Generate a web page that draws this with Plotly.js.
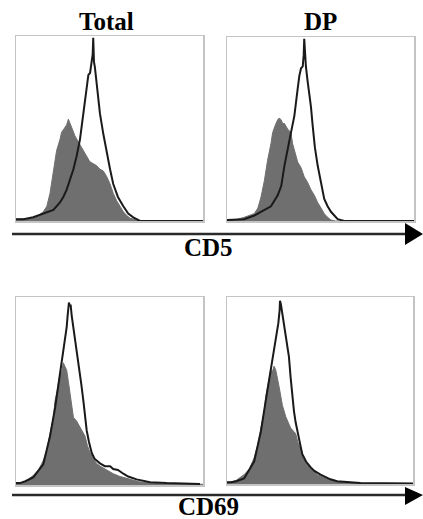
<!DOCTYPE html>
<html>
<head>
<meta charset="utf-8">
<script src="https://cdn.plot.ly/plotly-3.0.1.min.js"></script>
<style>html,body{margin:0;padding:0;background:#fff;}#chart{width:423px;height:519px;}</style>
</head>
<body>
<div id="chart"></div>
<script>
// Panel titles and marker labels
const panelTitles = ["Total", "DP"];
const markerLabels = ["CD5", "CD69"];

// CD5, Total: filled (control) histogram
const cd5TotalFillX = [0, 0.03, 0.06, 0.092, 0.12, 0.146, 0.165, 0.182, 0.2, 0.217, 0.235, 0.244, 0.258, 0.271, 0.28, 0.289, 0.3, 0.315, 0.342, 0.36, 0.378, 0.395, 0.413, 0.43, 0.449, 0.467, 0.485, 0.503, 0.52, 0.538, 0.556, 0.574, 0.592, 0.61, 0.627, 0.66, 1.0];
const cd5TotalFillY = [0.01, 0.01, 0.012, 0.02, 0.03, 0.05, 0.08, 0.15, 0.26, 0.38, 0.44, 0.48, 0.5, 0.52, 0.55, 0.53, 0.5, 0.46, 0.41, 0.38, 0.35, 0.32, 0.31, 0.3, 0.28, 0.27, 0.24, 0.2, 0.15, 0.11, 0.08, 0.05, 0.03, 0.015, 0.01, 0.0, 0.0];
// CD5, Total: outline histogram
const cd5TotalLineX = [0, 0.04, 0.092, 0.146, 0.2, 0.235, 0.253, 0.271, 0.289, 0.307, 0.324, 0.342, 0.351, 0.36, 0.369, 0.378, 0.387, 0.396, 0.405, 0.41, 0.413, 0.417, 0.422, 0.431, 0.44, 0.449, 0.467, 0.485, 0.503, 0.52, 0.545, 0.574, 0.6, 0.627, 0.663, 1.0];
const cd5TotalLineY = [0.01, 0.01, 0.02, 0.04, 0.06, 0.1, 0.13, 0.17, 0.22, 0.28, 0.35, 0.44, 0.51, 0.58, 0.66, 0.75, 0.79, 0.8, 0.85, 0.9, 0.99, 0.86, 0.83, 0.75, 0.67, 0.58, 0.47, 0.37, 0.28, 0.2, 0.13, 0.08, 0.04, 0.02, 0.0, 0.0];

// CD5, DP
const cd5DpFillX = [0, 0.05, 0.092, 0.12, 0.146, 0.165, 0.182, 0.2, 0.217, 0.235, 0.244, 0.258, 0.271, 0.28, 0.289, 0.298, 0.307, 0.324, 0.342, 0.351, 0.36, 0.378, 0.396, 0.413, 0.431, 0.449, 0.467, 0.485, 0.503, 0.52, 0.538, 0.556, 0.58, 1.0];
const cd5DpFillY = [0.005, 0.008, 0.02, 0.03, 0.04, 0.07, 0.13, 0.22, 0.33, 0.42, 0.48, 0.52, 0.55, 0.56, 0.55, 0.53, 0.53, 0.5, 0.48, 0.42, 0.39, 0.32, 0.29, 0.24, 0.21, 0.17, 0.14, 0.1, 0.07, 0.04, 0.02, 0.005, 0.0, 0.0];
const cd5DpLineX = [0, 0.05, 0.092, 0.146, 0.2, 0.235, 0.271, 0.29, 0.307, 0.324, 0.342, 0.36, 0.369, 0.378, 0.387, 0.396, 0.405, 0.41, 0.413, 0.417, 0.422, 0.431, 0.44, 0.449, 0.458, 0.47, 0.485, 0.503, 0.52, 0.538, 0.556, 0.574, 0.592, 0.627, 1.0];
const cd5DpLineY = [0.005, 0.008, 0.01, 0.03, 0.06, 0.08, 0.14, 0.19, 0.3, 0.38, 0.48, 0.57, 0.66, 0.72, 0.79, 0.83, 0.84, 0.9, 0.99, 0.88, 0.84, 0.76, 0.7, 0.62, 0.52, 0.4, 0.3, 0.2, 0.12, 0.08, 0.05, 0.03, 0.01, 0.0, 0.0];

// CD69, Total
const cd69TotalFillX = [0, 0.021, 0.05, 0.092, 0.12, 0.146, 0.165, 0.182, 0.2, 0.209, 0.22, 0.235, 0.244, 0.253, 0.262, 0.271, 0.28, 0.289, 0.298, 0.307, 0.324, 0.342, 0.36, 0.369, 0.382, 0.396, 0.413, 0.431, 0.45, 0.485, 0.52, 0.556, 0.592, 0.627, 0.66, 0.717, 0.8, 1.0];
const cd69TotalFillY = [0.01, 0.01, 0.02, 0.05, 0.08, 0.13, 0.19, 0.27, 0.36, 0.45, 0.5, 0.59, 0.6, 0.65, 0.63, 0.61, 0.55, 0.49, 0.42, 0.36, 0.34, 0.31, 0.28, 0.26, 0.21, 0.17, 0.14, 0.115, 0.1, 0.08, 0.06, 0.045, 0.035, 0.025, 0.017, 0.01, 0.005, 0.004];
const cd69TotalLineX = [0, 0.021, 0.05, 0.092, 0.146, 0.182, 0.209, 0.235, 0.253, 0.271, 0.276, 0.283, 0.289, 0.292, 0.298, 0.307, 0.316, 0.333, 0.35, 0.36, 0.37, 0.378, 0.39, 0.405, 0.42, 0.449, 0.475, 0.503, 0.52, 0.545, 0.574, 0.6, 0.645, 0.717, 0.806, 0.984];
const cd69TotalLineY = [0.01, 0.01, 0.02, 0.04, 0.11, 0.26, 0.41, 0.58, 0.7, 0.84, 0.9, 0.97, 0.95, 0.96, 0.9, 0.84, 0.76, 0.66, 0.53, 0.45, 0.36, 0.29, 0.23, 0.17, 0.14, 0.115, 0.1, 0.1, 0.085, 0.08, 0.06, 0.045, 0.03, 0.015, 0.01, 0.005];

// CD69, DP
const cd69DpFillX = [0, 0.021, 0.05, 0.092, 0.12, 0.146, 0.165, 0.182, 0.2, 0.209, 0.22, 0.235, 0.244, 0.253, 0.262, 0.271, 0.28, 0.289, 0.298, 0.316, 0.33, 0.342, 0.36, 0.369, 0.382, 0.396, 0.413, 0.431, 0.46, 0.485, 0.52, 0.556, 0.592, 0.663, 0.75, 1.0];
const cd69DpFillY = [0.01, 0.01, 0.02, 0.05, 0.08, 0.14, 0.21, 0.3, 0.39, 0.47, 0.53, 0.61, 0.6, 0.63, 0.61, 0.57, 0.52, 0.47, 0.42, 0.36, 0.33, 0.3, 0.28, 0.27, 0.22, 0.18, 0.14, 0.107, 0.08, 0.05, 0.035, 0.025, 0.013, 0.005, 0.003, 0.003];
const cd69DpLineX = [0, 0.021, 0.05, 0.092, 0.146, 0.182, 0.209, 0.235, 0.262, 0.276, 0.283, 0.285, 0.29, 0.298, 0.307, 0.316, 0.333, 0.342, 0.35, 0.36, 0.369, 0.38, 0.396, 0.405, 0.425, 0.449, 0.47, 0.503, 0.53, 0.556, 0.592, 0.627, 0.717, 1.0];
const cd69DpLineY = [0.01, 0.01, 0.015, 0.03, 0.12, 0.28, 0.45, 0.61, 0.79, 0.86, 0.93, 0.98, 0.96, 0.91, 0.85, 0.79, 0.68, 0.57, 0.47, 0.39, 0.33, 0.27, 0.2, 0.16, 0.12, 0.09, 0.07, 0.05, 0.035, 0.025, 0.015, 0.012, 0.005, 0.003];

const W = 423, H = 519;
const px = x => x / W;
const py = y => 1 - y / H;

// panel boxes in pixels [left, right, top, bottom]
const boxes = [
  [16, 203, 36, 221],
  [227, 414, 37, 221],
  [16, 203, 297, 485],
  [227, 413, 297, 484]
];

const fillColor = '#6f6f6f';
const lineColor = '#1a1a1a';

const series = [
  [cd5TotalFillX, cd5TotalFillY, cd5TotalLineX, cd5TotalLineY],
  [cd5DpFillX, cd5DpFillY, cd5DpLineX, cd5DpLineY],
  [cd69TotalFillX, cd69TotalFillY, cd69TotalLineX, cd69TotalLineY],
  [cd69DpFillX, cd69DpFillY, cd69DpLineX, cd69DpLineY]
];

const data = [];
const layout = {
  width: W, height: H,
  margin: {l: 0, r: 0, t: 0, b: 0},
  paper_bgcolor: '#fff', plot_bgcolor: '#fff',
  showlegend: false,
  shapes: [], annotations: []
};

series.forEach((s, i) => {
  const n = i + 1;
  const xa = 'x' + (n === 1 ? '' : n), ya = 'y' + (n === 1 ? '' : n);
  data.push({x: s[0], y: s[1], xaxis: xa, yaxis: ya, type: 'scatter', mode: 'lines',
    fill: 'tozeroy', fillcolor: fillColor, line: {color: fillColor, width: 1}, hoverinfo: 'skip'});
  data.push({x: s[2], y: s[3], xaxis: xa, yaxis: ya, type: 'scatter', mode: 'lines',
    line: {color: lineColor, width: 2}, hoverinfo: 'skip'});
  const b = boxes[i];
  const axCommon = {showgrid: false, zeroline: false, showticklabels: false, ticks: '',
    showline: true, mirror: true, linecolor: '#c4c4c4', linewidth: 1.5, fixedrange: true};
  layout['xaxis' + (n === 1 ? '' : n)] = Object.assign({}, axCommon, {
    domain: [px(b[0]), px(b[1])], range: [0, 1], anchor: ya});
  layout['yaxis' + (n === 1 ? '' : n)] = Object.assign({}, axCommon, {
    domain: [py(b[3]), py(b[2])], range: [0, 1.0], anchor: xa});
});

// arrows
[[234, 223, 245], [495, 487, 505]].forEach(a => {
  layout.shapes.push({type: 'line', xref: 'paper', yref: 'paper',
    x0: px(12), x1: px(408), y0: py(a[0]), y1: py(a[0]),
    line: {color: '#2a2a2a', width: 2.5}});
  layout.shapes.push({type: 'path', xref: 'paper', yref: 'paper',
    path: `M ${px(405)} ${py(a[1])} L ${px(423)} ${py(a[0])} L ${px(405)} ${py(a[2])} Z`,
    fillcolor: '#000', line: {color: '#000', width: 0}});
});

const tfont = {family: 'Liberation Serif, Times New Roman, serif', size: 25, color: '#000', weight: 'bold'};
layout.annotations.push({text: '<b>' + panelTitles[0] + '</b>', xref: 'paper', yref: 'paper',
  x: px(107), y: py(22), xanchor: 'center', yanchor: 'middle', showarrow: false, font: tfont});
layout.annotations.push({text: '<b>' + panelTitles[1] + '</b>', xref: 'paper', yref: 'paper',
  x: px(320), y: py(22), xanchor: 'center', yanchor: 'middle', showarrow: false, font: tfont});
layout.annotations.push({text: '<b>' + markerLabels[0] + '</b>', xref: 'paper', yref: 'paper',
  x: px(208), y: py(247), xanchor: 'center', yanchor: 'middle', showarrow: false, font: tfont});
layout.annotations.push({text: '<b>' + markerLabels[1] + '</b>', xref: 'paper', yref: 'paper',
  x: px(208), y: py(506), xanchor: 'center', yanchor: 'middle', showarrow: false, font: tfont});

Plotly.newPlot('chart', data, layout, {staticPlot: true, displayModeBar: false});
</script>
</body>
</html>
